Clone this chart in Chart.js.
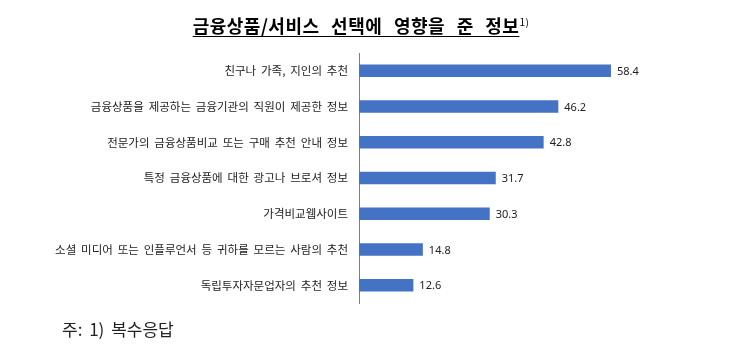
<!DOCTYPE html>
<html>
<head>
<meta charset="utf-8">
<script src="https://cdn.jsdelivr.net/npm/chart.js@4"></script>
<style>
  body { margin: 0; background: #fff; }
  #wrap { position: relative; width: 750px; height: 351px; }
  #title {
    position: absolute; left: 0; width: 722px; top: 12px; text-align: center;
    font-family: "Noto Sans CJK KR", sans-serif; font-weight: bold; font-size: 18px;
    color: #000; letter-spacing: 0.5px; word-spacing: 7px;
  }
  #title span.t { text-decoration: underline; text-underline-offset: 3px; }
  #title sup { font-size: 10px; font-weight: normal; }
  #note {
    position: absolute; left: 62px; top: 316px;
    font-family: "Noto Sans CJK KR", sans-serif; font-size: 17px; color: #222;
    word-spacing: 3px;
  }
  canvas { position: absolute; left: 0; top: 0; }
</style>
</head>
<body>
<div id="wrap">
  <canvas id="chart" width="750" height="351"></canvas>
  <div id="title"><span class="t">금융상품/서비스 선택에 영향을 준 정보</span><sup>1)</sup></div>
  <div id="note">주: 1) 복수응답</div>
</div>
<script>
// categories and values (%)
let categories = [
    "친구나 가족, 지인의 추천",
    "금융상품을 제공하는 금융기관의 직원이 제공한 정보",
    "전문가의 금융상품비교 또는 구매 추천 안내 정보",
    "특정 금융상품에 대한 광고나 브로셔 정보",
    "가격비교웹사이트",
    "소셜 미디어 또는 인플루언서 등 귀하를 모르는 사람의 추천",
    "독립투자자문업자의 추천 정보"
];
let values = [58.4, 46.2, 42.8, 31.7, 30.3, 14.8, 12.6];

// wider gaps between words, like the original labels
let wideWords = {
    id: "wideWords",
    beforeDraw(chart) { chart.ctx.wordSpacing = "2.3px"; },
    afterDraw(chart) { chart.ctx.wordSpacing = "0px"; }
};

// draws the number right after each bar
let valueLabels = {
    id: "valueLabels",
    afterDatasetsDraw(chart) {
        let ctx = chart.ctx;
        let meta = chart.getDatasetMeta(0);
        ctx.save();
        ctx.font = "11px 'Noto Sans', sans-serif";
        ctx.fillStyle = "#222";
        ctx.textAlign = "left";
        ctx.textBaseline = "middle";
        meta.data.forEach((bar, i) => {
            ctx.fillText(values[i].toFixed(1), bar.x + 6, bar.y + 1);
        });
        ctx.restore();
    }
};

let ctx = document.getElementById("chart").getContext("2d");
let chart = new Chart(ctx, {
    type: "bar",
    data: {
        labels: categories,
        datasets: [{
            data: values,
            backgroundColor: "#4472C4",
            barPercentage: 0.35,
            categoryPercentage: 1
        }]
    },
    options: {
        indexAxis: "y",
        responsive: false,
        animation: false,
        layout: { padding: { top: 53, bottom: 48, right: 89, left: 0 } },
        plugins: { legend: { display: false }, tooltip: { enabled: false } },
        scales: {
            x: { display: false, min: 0, max: 70 },
            y: {
                afterFit(scale) { scale.width = 359; },
                grid: { color: "transparent", drawTicks: false },
                border: { display: true, color: "#7f7f7f", width: 1 },
                ticks: {
                    padding: 11,
                    color: "#222",
                    font: { family: "'Noto Sans CJK KR', sans-serif", size: 11.5 }
                }
            }
        }
    },
    plugins: [wideWords, valueLabels]
});
</script>
</body>
</html>
